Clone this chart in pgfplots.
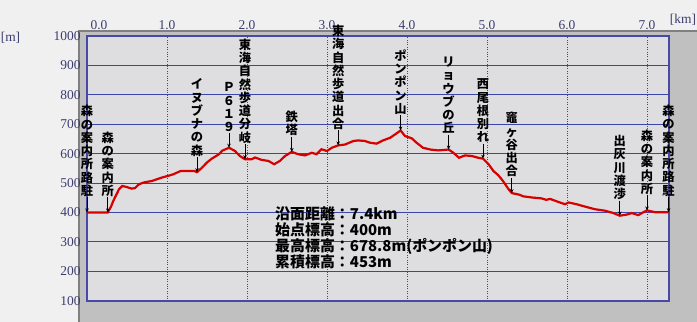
\documentclass[border=0pt]{standalone}
\usepackage{fontspec}
\setmainfont{Liberation Serif}
\newfontfamily\jp{Noto Sans CJK JP}
\usepackage{pgfplots}
\pgfplotsset{compat=1.18}
\usetikzlibrary{calc,arrows.meta}
\definecolor{bgout}{RGB}{240,240,240}
\definecolor{framec}{RGB}{192,192,192}
\definecolor{frameshade}{RGB}{128,128,128}
\definecolor{plotbg}{RGB}{222,222,224}
\definecolor{axblue}{RGB}{72,72,168}
\definecolor{gridblue}{RGB}{60,70,170}
\definecolor{ticktext}{RGB}{60,60,110}
\definecolor{prof}{RGB}{215,0,0}
\newcommand{\lbl}[3]{\draw[line width=0.9bp,-{Stealth[length=4bp,width=3.5bp]}] ($(axis cs:#1,#2)+(0bp,15bp)$) node[anchor=south,inner sep=0.5bp,align=center,font=\jp\bfseries\fontsize{12.3}{13.3}\selectfont]{#3} -- (axis cs:#1,#2);}
\begin{document}
\begin{tikzpicture}
\useasboundingbox (0bp,0bp) rectangle (697bp,-322bp);
\fill[bgout] (0bp,0bp) rectangle (697bp,-322bp);
\fill[framec] (78bp,-30bp) rectangle (697bp,-322bp);
\draw[frameshade,line width=1.5bp] (78.75bp,-322bp) -- (78.75bp,-30.75bp) -- (697bp,-30.75bp);
\node[font=\fontsize{13.5}{15}\selectfont, text=ticktext] at (10.5bp,-37.5bp) {[m]};
\node[font=\fontsize{13.5}{15}\selectfont, text=ticktext] at (683bp,-20bp) {[km]};
\begin{axis}[at={(87bp,-300.7bp)}, anchor=south west, scale only axis,
  width=582.3bp, height=264.7bp,
  xmin=0, xmax=7.279, ymin=100, ymax=1000,
  axis background/.style={fill=plotbg},
  axis line style={axblue,line width=2bp},
  xtick={0,1,2,3,4,5,6,7},
  xticklabels={\hspace*{24bp}0.0,1.0,2.0,3.0,4.0,5.0,6.0,7.0},
  xticklabel pos=right,
  ytick={100,200,300,400,500,600,700,800,900,1000},
  yticklabels={100,200,300,400,500,600,700,800,900,1000},
  major tick length=0pt,
  xmajorgrids, ymajorgrids,
  x grid style={gridblue,dotted,line width=0.8bp},
  y grid style={gridblue,line width=0.9bp},
  tick label style={font=\fontsize{13.5}{15}\selectfont, text=ticktext},
  yticklabel style={xshift=-3bp},
  xticklabel style={yshift=3bp},
  clip=false]
\addplot[prof, line width=2.2bp] table {
x y
0.00 400
0.26 400
0.30 420
0.33 440
0.40 479
0.44 490
0.49 487
0.56 481
0.60 483
0.65 496
0.71 502
0.81 507
0.94 519
1.02 525
1.08 530
1.17 541
1.34 541
1.375 537
1.44 553
1.50 570
1.56 583
1.65 598
1.69 610
1.75 617
1.775 620
1.85 609
1.91 592
1.975 581
2.06 581
2.10 587
2.18 579
2.27 575
2.34 564
2.41 575
2.475 592
2.56 606
2.64 598
2.725 594
2.81 603
2.87 598
2.93 615
3.00 609
3.06 620
3.14 628
3.225 631
3.33 643
3.39 645
3.475 643
3.54 637
3.62 634
3.70 645
3.79 654
3.87 669
3.92 678.8
3.975 660
4.06 652
4.12 637
4.20 620
4.29 614
4.39 611
4.52 614
4.58 603
4.65 586
4.725 594
4.81 592
4.89 586
4.95 583
5.02 564
5.08 541
5.14 527
5.20 507
5.27 479
5.31 466
5.41 460
5.45 455
5.56 451
5.68 448
5.74 443
5.79 446
5.89 436
5.975 428
6.02 434
6.12 428
6.225 420
6.35 411
6.475 406
6.58 398
6.66 389
6.75 393
6.81 398
6.89 391
6.95 400
7.00 407
7.10 401
7.27 401
};
\lbl{0.0}{400}{森\\の\\案\\内\\所\\路\\駐}
\lbl{0.26}{400}{森\\の\\案\\内\\所}
\lbl{1.375}{537}{イ\\ヌ\\ブ\\ナ\\の\\森}
\lbl{1.775}{620}{Ｐ\\６\\１\\９}
\lbl{1.975}{581}{東\\海\\自\\然\\歩\\道\\分\\岐}
\lbl{2.56}{606}{鉄\\塔}
\lbl{3.14}{628}{東\\海\\自\\然\\歩\\道\\出\\合}
\lbl{3.92}{678.8}{ポ\\ン\\ポ\\ン\\山}
\lbl{4.52}{614}{リ\\ョ\\ウ\\ブ\\の\\丘}
\lbl{4.95}{583}{西\\尾\\根\\別\\れ}
\lbl{5.31}{466}{竈\\ヶ\\谷\\出\\合}
\lbl{6.66}{389}{出\\灰\\川\\渡\\渉}
\lbl{7.00}{407}{森\\の\\案\\内\\所}
\lbl{7.27}{401}{森\\の\\案\\内\\所\\路\\駐}
\node[anchor=north west, inner sep=0pt, align=left, font=\jp\bfseries\fontsize{15}{16}\selectfont] at (axis cs:2.35,419) {沿面距離：7.4km\\始点標高：400m\\最高標高：678.8m(ポンポン山)\\累積標高：453m};
\end{axis}
\end{tikzpicture}
\end{document}
